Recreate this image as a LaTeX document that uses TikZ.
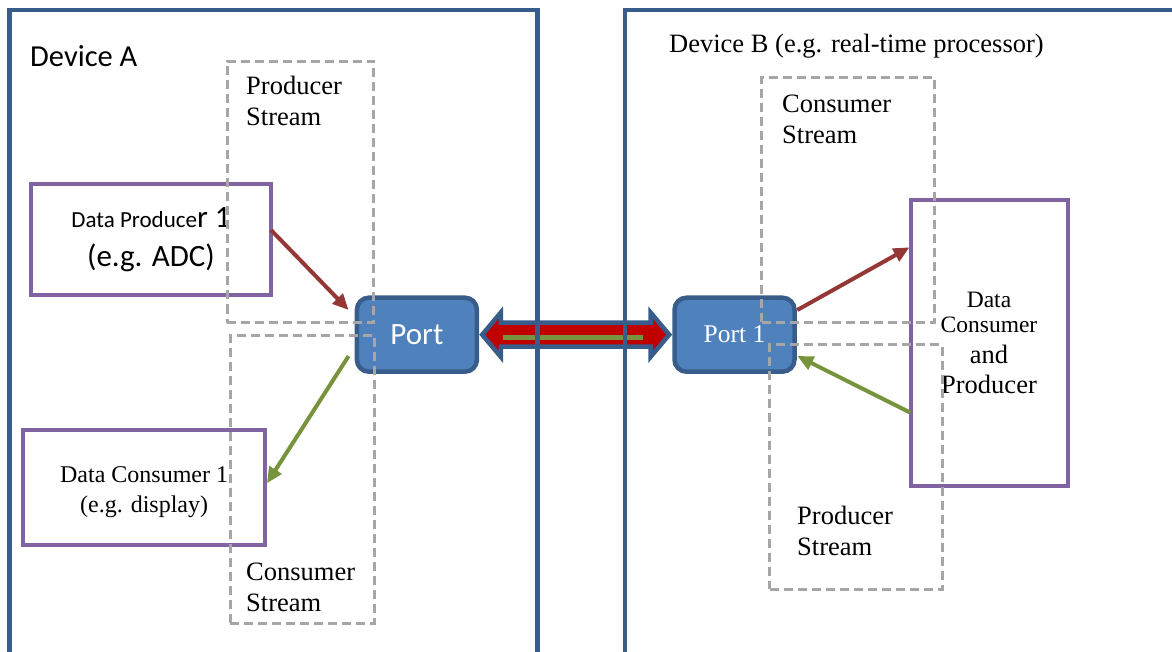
\documentclass[tikz,border=0pt]{standalone}
\usepackage{fontspec}
\setmainfont{Liberation Serif}
\newfontfamily\carlito{Carlito}
\usetikzlibrary{arrows.meta,shapes.arrows,calc}
\definecolor{devblue}{HTML}{385D8A}
\definecolor{portblue}{HTML}{4F81BD}
\definecolor{unitpurple}{HTML}{8064A2}
\definecolor{streamgray}{HTML}{A6A6A6}
\definecolor{flowred}{HTML}{953735}
\definecolor{flowgreen}{HTML}{77933C}
\definecolor{linkred}{HTML}{C00000}

\begin{document}
\begin{tikzpicture}
            [x=1pt,y=-1pt,
             device/.style={draw=devblue,line width=4.5pt},
             unit/.style={draw=unitpurple,line width=4pt,outer sep=0pt,inner sep=0pt,align=center},
             port/.style={draw=devblue,fill=portblue,line width=4.5pt,rounded corners=12pt,minimum width=120pt,minimum height=74pt,outer sep=0pt,inner sep=0pt,text=white},
             stream/.style={draw=streamgray,line width=3pt,dash pattern=on 9pt off 5pt,outer sep=0pt,inner sep=0pt},
             streamtext/.style={anchor=north west,inner sep=0pt,align=left,font=\fontsize{26.5}{30.5}\selectfont},
             dataflow/.style={line width=4pt,-{Triangle[length=16pt,width=14pt]}}]
            \useasboundingbox (0,0) rectangle (1172,652);

            % ports
            \node[port,font=\carlito\fontsize{31}{37}\selectfont] (port) at (416.9,334.7) {Port};
            \node[port,font=\fontsize{25.5}{30}\selectfont] (port1) at (734.5,334.7) {Port 1};

            % link between the devices
            \node[double arrow,draw=devblue,fill=linkred,line width=4.5pt,minimum height=187pt,inner sep=9.75pt,
                  double arrow head extend=10.25pt,double arrow tip angle=100] (link) at ($(port.east)!0.5!(port1.west)$) {};
            \draw[flowgreen,line width=5pt] ([xshift=25.8pt,yshift=-2.8pt]port.east) -- ([xshift=-31.5pt,yshift=-2.8pt]port1.west);

            % devices
            \draw[device] (9.5,10) rectangle (537.5,700);
            \draw[device] (625,10) rectangle (1200,700);
            \node[anchor=base west,inner sep=0pt,font=\carlito\fontsize{30.5}{36}\selectfont] (devA) at (30,67) {Device A};
            \node[anchor=base west,inner sep=0pt,font=\fontsize{26.5}{32}\selectfont] (devB) at (669,53) {Device B (e.g. real-time processor)};

            % producers and consumers
            \node[unit,minimum width=240pt,minimum height=111.5pt,font=\carlito\fontsize{31}{39}\selectfont] (prod1) at (151,239.7)
                {{\fontsize{23}{28}\selectfont Data Produce}r 1\\(e.g. ADC)};
            \node[unit,minimum width=241.3pt,minimum height=115pt,font=\fontsize{24}{30}\selectfont,text height=49.8pt,text depth=0pt] (cons1) at (144.1,487.8)
                {Data Consumer 1\\(e.g. display)};
            \node[unit,minimum width=157pt,minimum height=285pt,font=\fontsize{23.5}{25}\selectfont] (dcp) at (989,343)
                {Data\\Consumer\\[6pt]\fontsize{26.5}{30}\selectfont and\\[5pt]\fontsize{26.5}{30}\selectfont Producer};

            % data flow
            \draw[dataflow,flowred] ([yshift=9.7pt]prod1.east) -- ([xshift=-8.3pt,yshift=24.7pt]port.west);
            \draw[dataflow,flowgreen] ([xshift=-8.3pt,yshift=-21.3pt]port.west) -- ([xshift=2.2pt,yshift=4.5pt]cons1.east);
            \draw[dataflow,flowred] ([xshift=2.8pt,yshift=24.7pt]port1.east) -- ([xshift=-1pt,yshift=95.7pt]dcp.west);
            \draw[dataflow,flowgreen] ([yshift=-69.7pt]dcp.west) -- ([xshift=2.8pt,yshift=-21.3pt]port1.east);

            % streams
            \node[stream,minimum width=146.8pt,minimum height=261.2pt] (psA) at (300.4,191.9) {};
            \node[stream,minimum width=143.6pt,minimum height=288pt] (csA) at (302.2,479.3) {};
            \node[stream,minimum width=172.5pt,minimum height=245.1pt] (csB) at (847.75,199.75) {};
            \node[stream,minimum width=172.3pt,minimum height=245.1pt] (psB) at (855.85,466.75) {};
            \node[streamtext] (psAtxt) at (246,76) {Producer\\Stream};
            \node[streamtext] (csAtxt) at (246,563) {Consumer\\Stream};
            \node[streamtext] (csBtxt) at (782,95) {Consumer\\Stream};
            \node[streamtext] (psBtxt) at (797,506) {Producer\\Stream};
        \end{tikzpicture}
\end{document}
